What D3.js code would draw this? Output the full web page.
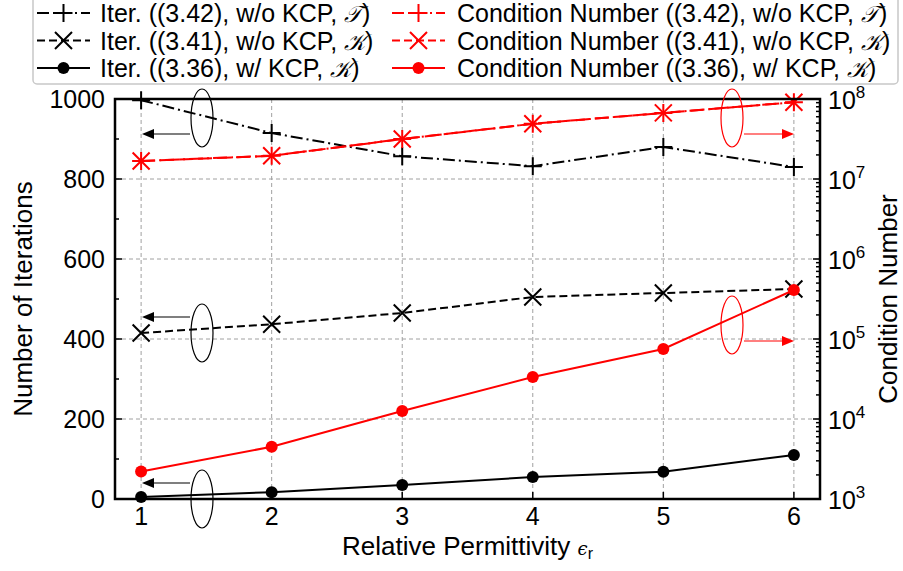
<!DOCTYPE html>
<html><head><meta charset="utf-8">
<script src="https://cdn.jsdelivr.net/npm/d3@7"></script>
<style>body{margin:0;background:#fff}svg{display:block;font-family:"Liberation Sans",Arial,sans-serif}</style>
</head><body><svg id="c" width="903" height="571"></svg>
<script>
const permittivity = [1, 2, 3, 4, 5, 6];
const iterT = [997, 915, 857, 832, 880, 830];
const iterK = [415, 437, 465, 505, 515, 525];
const iterKCP = [5, 17, 35, 55, 68, 110];
const condT = [1.68e7, 1.95e7, 3.16e7, 4.9e7, 6.7e7, 9.1e7];
const condK = [1.68e7, 1.95e7, 3.16e7, 4.9e7, 6.7e7, 9.1e7];
const condKCP = [2.2e3, 4.5e3, 1.26e4, 3.35e4, 7.5e4, 4.1e5];
const leftTicks = [0, 200, 400, 600, 800, 1000];
const rightExps = [3, 4, 5, 6, 7, 8];

const svg = d3.select("#c");
const L = 115, R = 820, T = 99, B = 499;
const x = d3.scaleLinear().domain([0.8, 6.2]).range([L, R]);
const yL = d3.scaleLinear().domain([0, 1000]).range([B, T]);
const yR = d3.scaleLog().domain([1e3, 1e8]).range([B, T]);
const FS = 25;

// legend (drawn first so nothing is hidden under it)
const lg = svg.append("g");

// grid
const g = svg.append("g");
permittivity.forEach(v => g.append("line").attr("x1", x(v)).attr("x2", x(v)).attr("y1", T).attr("y2", B)
  .attr("stroke", "#a0a0a0").attr("stroke-width", 1).attr("stroke-dasharray", "4,3"));
leftTicks.slice(1, -1).forEach(v => g.append("line").attr("x1", L).attr("x2", R).attr("y1", yL(v)).attr("y2", yL(v))
  .attr("stroke", "#a0a0a0").attr("stroke-width", 1).attr("stroke-dasharray", "4,3"));

// ticks (inward)
const tk = svg.append("g").attr("stroke", "#000").attr("stroke-width", 1.5);
d3.range(0, 1001, 100).forEach(v => tk.append("line").attr("x1", L).attr("x2", L + (v % 200 === 0 ? 7 : 4)).attr("y1", yL(v)).attr("y2", yL(v)));
for (let e = 3; e <= 8; e++) {
  tk.append("line").attr("x1", R).attr("x2", R - 7).attr("y1", yR(10 ** e)).attr("y2", yR(10 ** e));
  if (e < 8) for (let m = 2; m <= 9; m++) tk.append("line").attr("x1", R).attr("x2", R - 4).attr("y1", yR(m * 10 ** e)).attr("y2", yR(m * 10 ** e));
}
permittivity.forEach(v => tk.append("line").attr("x1", x(v)).attr("x2", x(v)).attr("y1", B).attr("y2", B - 7));

// series
function drawMarker(cx, cy, color, marker, parent) {
  const p = parent || svg;
  const s = 9;
  if (marker === "plus") {
    p.append("path").attr("d", `M${cx - s},${cy}H${cx + s}M${cx},${cy - s}V${cy + s}`)
      .attr("stroke", color).attr("stroke-width", 2).attr("fill", "none");
  } else if (marker === "x") {
    const k = 8.5;
    p.append("path").attr("d", `M${cx - k},${cy - k}L${cx + k},${cy + k}M${cx - k},${cy + k}L${cx + k},${cy - k}`)
      .attr("stroke", color).attr("stroke-width", 2).attr("fill", "none");
  } else {
    p.append("circle").attr("cx", cx).attr("cy", cy).attr("r", 6).attr("fill", color);
  }
}
function series(xs, ys, yScale, color, dash, marker) {
  const line = d3.line().x((d, i) => x(xs[i])).y(d => yScale(d));
  svg.append("path").datum(ys).attr("d", line).attr("fill", "none").attr("stroke", color)
    .attr("stroke-width", 2).attr("stroke-dasharray", dash);
  ys.forEach((v, i) => drawMarker(x(xs[i]), yScale(v), color, marker));
}
const DASHDOT = "12,4,2,4", DASH = "8,4";
series(permittivity, iterT, yL, "#000", DASHDOT, "plus");
series(permittivity, iterK, yL, "#000", DASH, "x");
series(permittivity, iterKCP, yL, "#000", null, "circle");
series(permittivity, condT, yR, "#ff0000", "14,4,2,4", "plus");
series(permittivity, condK, yR, "#ff0000", "14,5", "x");
series(permittivity, condKCP, yR, "#ff0000", null, "circle");

// frame
svg.append("rect").attr("x", L).attr("y", T).attr("width", R - L).attr("height", B - T)
  .attr("fill", "none").attr("stroke", "#000").attr("stroke-width", 2.5);

// annotations
function annot(ex, ey, ay, color, dir) {
  svg.append("ellipse").attr("cx", ex).attr("cy", ey).attr("rx", 11).attr("ry", 29)
    .attr("fill", "none").attr("stroke", color).attr("stroke-width", 1.2);
  const xs = dir === -1 ? ex - 12 : ex + 12;
  const xe = dir === -1 ? 142 : 794;
  const head = 12;
  svg.append("line").attr("x1", xs).attr("x2", xe - dir * head).attr("y1", ay).attr("y2", ay)
    .attr("stroke", color).attr("stroke-width", 1.2);
  svg.append("path").attr("d", `M${xe},${ay}L${xe - dir * head},${ay - 5}L${xe - dir * head},${ay + 5}Z`).attr("fill", color);
}
annot(202, 118, 134, "#000", -1);
annot(202, 333, 317, "#000", -1);
annot(202, 499, 483, "#000", -1);
annot(732, 118, 134, "#ff0000", 1);
annot(732, 325, 341, "#ff0000", 1);

// tick labels
const tl = svg.append("g").attr("font-size", FS).attr("fill", "#000");
leftTicks.forEach(v => tl.append("text").attr("x", 105).attr("y", yL(v)).attr("dy", "0.36em").attr("text-anchor", "end").text(v));
permittivity.forEach(v => tl.append("text").attr("x", x(v)).attr("y", 525).attr("text-anchor", "middle").text(v));
rightExps.forEach(e => {
  const t = tl.append("text").attr("x", 828).attr("y", yR(10 ** e)).attr("dy", "0.38em");
  t.append("tspan").text("10");
  t.append("tspan").attr("font-size", 17).attr("dy", "-0.6em").text(e);
});

// axis titles
svg.append("text").attr("transform", `translate(32,${(T + B) / 2}) rotate(-90)`).attr("text-anchor", "middle")
  .attr("font-size", 26).text("Number of Iterations");
svg.append("text").attr("transform", `translate(897,${(T + B) / 2}) rotate(-90)`).attr("text-anchor", "middle")
  .attr("font-size", 26).text("Condition Number");
const xt = svg.append("text").attr("x", (L + R) / 2).attr("y", 555).attr("text-anchor", "middle").attr("font-size", 26);
xt.append("tspan").text("Relative Permittivity ");
xt.append("tspan").attr("font-family", "DejaVu Serif").attr("font-style", "italic").attr("font-size", 18).text("ϵ");
xt.append("tspan").attr("font-size", 16).attr("dy", "0.25em").text("r");

// legend content
lg.append("rect").attr("x", 33).attr("y", -8).attr("width", 865).attr("height", 92).attr("rx", 4)
  .attr("fill", "#fff").attr("stroke", "#c8c8c8").attr("stroke-width", 1.5);
const legendLabels = [
  ["Iter. ((3.42), w/o KCP, ", "𝒯", ")"],
  ["Iter. ((3.41), w/o KCP, ", "𝒦", ")"],
  ["Iter. ((3.36), w/ KCP, ", "𝒦", ")"],
  ["Condition Number ((3.42), w/o KCP, ", "𝒯", ")"],
  ["Condition Number ((3.41), w/o KCP, ", "𝒦", ")"],
  ["Condition Number ((3.36), w/ KCP, ", "𝒦", ")"]
];
const legStyle = [
  ["#000", DASHDOT, "plus"], ["#000", DASH, "x"], ["#000", null, "circle"],
  ["#ff0000", DASHDOT, "plus"], ["#ff0000", DASH, "x"], ["#ff0000", null, "circle"]
];
legendLabels.forEach((lab, i) => {
  const col = Math.floor(i / 3), row = i % 3;
  const lx = col === 0 ? 37 : 392, ly = 13 + row * 27.5;
  lg.append("line").attr("x1", lx).attr("x2", lx + 53).attr("y1", ly).attr("y2", ly)
    .attr("stroke", legStyle[i][0]).attr("stroke-width", 2).attr("stroke-dasharray", legStyle[i][1]);
  drawMarker(lx + 26.5, ly, legStyle[i][0], legStyle[i][2], lg);
  const t = lg.append("text").attr("x", col === 0 ? 100 : 457).attr("y", ly).attr("dy", "0.36em").attr("font-size", FS);
  t.append("tspan").text(lab[0]);
  t.append("tspan").attr("font-family", "DejaVu Serif").attr("font-style", "italic").attr("font-size", 23).text(lab[1]);
  t.append("tspan").text(lab[2]);
});
</script></body></html>
